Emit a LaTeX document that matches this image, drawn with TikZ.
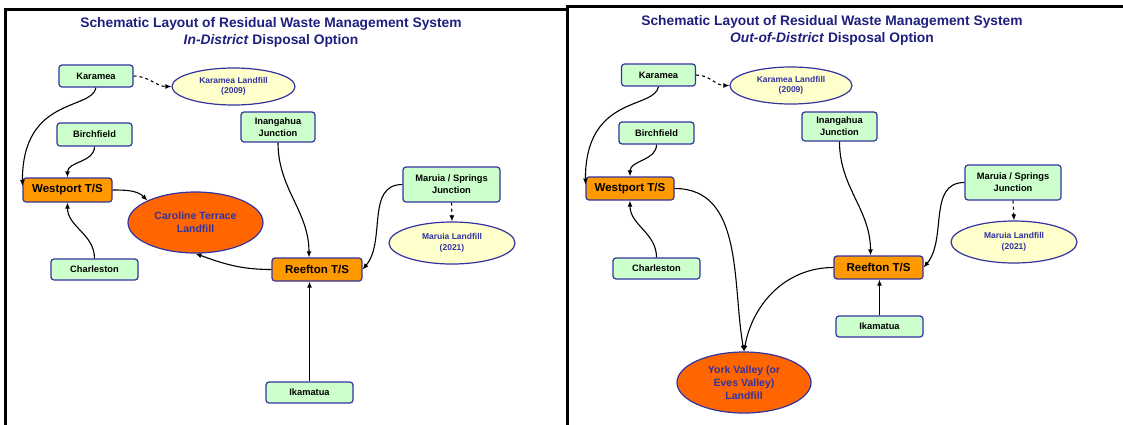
\documentclass[tikz,border=0pt]{standalone}
\usepackage{fontspec}
\setmainfont{Liberation Sans}
\usetikzlibrary{arrows.meta, positioning, shapes}

\definecolor{navy}{HTML}{1F1F80}
\definecolor{edgeblue}{HTML}{3333A0}
\definecolor{sitegreen}{HTML}{CCFFCC}
\definecolor{stationorange}{HTML}{FF9900}
\definecolor{tiporange}{HTML}{FF6600}
\definecolor{paleyellow}{HTML}{FFFFCC}

\begin{document}
\begin{tikzpicture}[x=1pt, y=-1pt,
    title/.style={text=navy, font=\fontsize{13.8}{17}\selectfont\bfseries, align=center},
    site/.style={rectangle, rounded corners=3pt, draw=edgeblue, line width=1.2pt, fill=sitegreen, font=\fontsize{9.3}{12}\selectfont\bfseries, align=center, inner sep=1pt},
    station/.style={site, fill=stationorange, font=\fontsize{11.5}{13}\selectfont\bfseries},
    landfill/.style={ellipse, draw=edgeblue, line width=1.2pt, fill=tiporange, text=edgeblue, font=\fontsize{10.5}{13}\selectfont\bfseries, align=center, inner sep=0pt},
    local/.style={landfill, fill=paleyellow, font=\fontsize{8.5}{10.5}\selectfont\bfseries},
    flow/.style={-{Latex[length=6pt, width=5pt]}, line width=1.1pt},
    planned/.style={flow, dashed}]
    \useasboundingbox (0,0) rectangle (1123,424);
    \clip (0,0) rectangle (1123,424);
    \draw[line width=3pt] (5.5,440) |- (567.5,9);
    \draw[line width=3pt] (567.5,440) |- (1140,6.5);

    \node (TitleA) [title] at (271,32.5) {Schematic Layout of Residual Waste Management System\\\textit{In-District} Disposal Option};
    \node (KarameaA) [site, minimum width=74, minimum height=22] at (96,76) {Karamea};
    \node (KarameaTipA) [local, minimum width=123, minimum height=37] at (233.5,86.5) {Karamea Landfill\\(2009)};
    \node (BirchfieldA) [site, minimum width=75, minimum height=23] at (94.5,134.5) {Birchfield};
    \node (InangahuaA) [site, minimum width=74, minimum height=30] at (278,127) {Inangahua\\Junction};
    \node (WestportA) [station, minimum width=89, minimum height=24] at (67.5,190) {Westport T/S};
    \node (MaruiaA) [site, minimum width=97, minimum height=35] at (451.5,184.5) {Maruia / Springs\\Junction};
    \node (CarolineA) [landfill, minimum width=135, minimum height=61] at (195.5,222.5) {Caroline Terrace\\Landfill};
    \node (MaruiaTipA) [local, minimum width=126, minimum height=42] at (452,243) {Maruia Landfill\\(2021)};
    \node (CharlestonA) [site, minimum width=87, minimum height=21] at (94.5,269.5) {Charleston};
    \node (ReeftonA) [station, minimum width=90, minimum height=23] at (317,269.5) {Reefton T/S};
    \node (IkamatuaA) [site, minimum width=87, minimum height=21] at (309.5,392.5) {Ikamatua};

    \draw[planned] (KarameaA.east) to[out=0, in=180] (KarameaTipA.west);
    \draw[flow] (KarameaA.south) .. controls +(-4,23) and +(0,-90) .. ([yshift=4pt]WestportA.west);
    \draw[flow] (BirchfieldA.south) to[out=-90, in=90] (WestportA.north);
    \draw[flow] (CharlestonA.north) to[out=90, in=-90] (WestportA.south);
    \draw[flow] (WestportA.east) to[out=0, in=135] (CarolineA.north west);
    \draw[flow] (ReeftonA.west) to[out=180, in=-20] (CarolineA.south);
    \draw[flow] (InangahuaA.south) to[out=-90, in=90] ([xshift=-8pt]ReeftonA.north);
    \draw[flow] (MaruiaA.west) to[out=180, in=50] (ReeftonA.east);
    \draw[planned] (MaruiaA.south) -- (MaruiaTipA.north);
    \draw[flow] (IkamatuaA.north) -- (IkamatuaA.north |- ReeftonA.south);

    \node (TitleB) [title] at (832,30.5) {Schematic Layout of Residual Waste Management System\\\textit{Out-of-District} Disposal Option};
    \node (KarameaB) [site, minimum width=74, minimum height=22] at (658.5,75) {Karamea};
    \node (KarameaTipB) [local, minimum width=122, minimum height=37] at (791,85.5) {Karamea Landfill\\(2009)};
    \node (BirchfieldB) [site, minimum width=75, minimum height=22] at (656.5,133) {Birchfield};
    \node (InangahuaB) [site, minimum width=75, minimum height=29] at (839.5,126.5) {Inangahua\\Junction};
    \node (WestportB) [station, minimum width=88, minimum height=23] at (630,188.5) {Westport T/S};
    \node (MaruiaB) [site, minimum width=96, minimum height=35] at (1013,182.5) {Maruia / Springs\\Junction};
    \node (MaruiaTipB) [local, minimum width=126, minimum height=42] at (1014,242) {Maruia Landfill\\(2021)};
    \node (CharlestonB) [site, minimum width=87, minimum height=21] at (656.5,268.5) {Charleston};
    \node (ReeftonB) [station, minimum width=89, minimum height=23] at (878.5,267.5) {Reefton T/S};
    \node (IkamatuaB) [site, minimum width=87, minimum height=21] at (879.5,326.5) {Ikamatua};
    \node (YorkB) [landfill, minimum width=134, minimum height=61] at (744,382.5) {York Valley (or\\Eves Valley)\\Landfill};

    \draw[planned] (KarameaB.east) to[out=0, in=180] (KarameaTipB.west);
    \draw[flow] (KarameaB.south) .. controls +(-4,23) and +(0,-90) .. ([yshift=4pt]WestportB.west);
    \draw[flow] (BirchfieldB.south) to[out=-90, in=90] (WestportB.north);
    \draw[flow] (CharlestonB.north) to[out=90, in=-90] (WestportB.south);
    \draw[flow] (WestportB.east) to[out=0, in=100] (YorkB.north);
    \draw[flow] (ReeftonB.west) to[out=180, in=80] (YorkB.north);
    \draw[flow] (InangahuaB.south) to[out=-90, in=90] ([xshift=-8pt]ReeftonB.north);
    \draw[flow] (MaruiaB.west) to[out=180, in=50] (ReeftonB.east);
    \draw[planned] (MaruiaB.south) -- (MaruiaTipB.north);
    \draw[flow] (IkamatuaB.north) -- (IkamatuaB.north |- ReeftonB.south);
\end{tikzpicture}
\end{document}
